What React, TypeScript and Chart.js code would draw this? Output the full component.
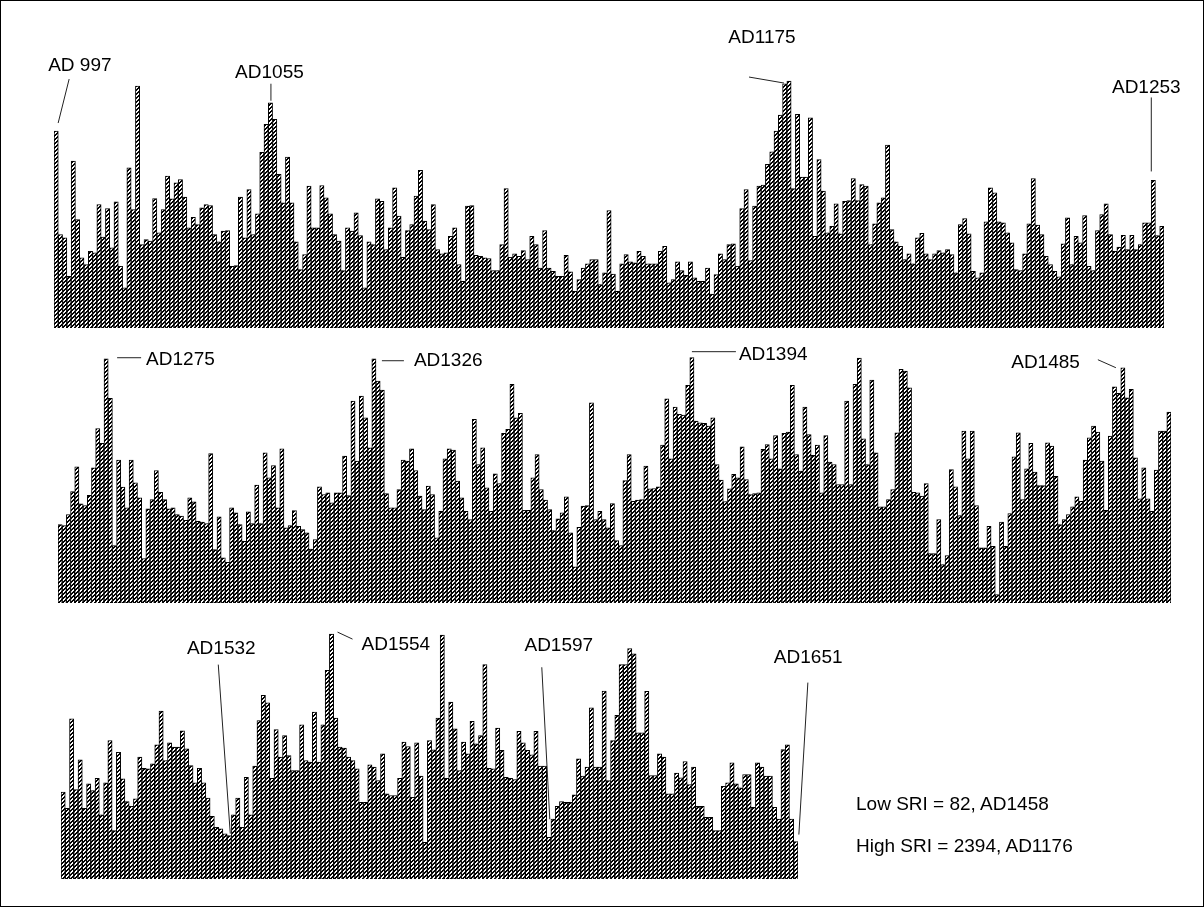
import React, { useEffect, useRef } from "react";
import { Chart, registerables } from "chart.js";

Chart.register(...registerables);

// ---- Data: SRI values (three rows) ----
const row1Values = [
  1906, 904, 872, 501, 1615, 1050, 678, 614, 743, 727,
  1195, 879, 1156, 775, 1221, 598, 388, 1550, 1147, 2342,
  808, 856, 840, 1253, 921, 1147, 1470, 1250, 1405, 1437,
  1266, 969, 1072, 1001, 1163, 1195, 1185, 904, 833, 937,
  943, 598, 604, 1266, 872, 1340, 904, 1105, 1701, 1970,
  2180, 2019, 1486, 1211, 1654, 1211, 833, 565, 711, 1373,
  969, 969, 1379, 1260, 1105, 904, 840, 556, 969, 937,
  1114, 895, 388, 833, 808, 1250, 1227, 759, 969, 1357,
  1082, 685, 943, 1001, 1276, 1525, 1034, 953, 1195, 759,
  717, 727, 888, 969, 614, 452, 1179, 1185, 704, 694,
  678, 672, 556, 556, 808, 1350, 685, 717, 694, 749,
  662, 888, 808, 581, 943, 581, 549, 501, 501, 704,
  543, 355, 468, 581, 620, 662, 662, 420, 533, 1137,
  523, 355, 620, 711, 640, 630, 743, 694, 620, 620,
  620, 743, 791, 436, 468, 640, 556, 510, 640, 485,
  452, 452, 581, 329, 517, 717, 662, 808, 814, 598,
  1156, 1340, 652, 1179, 1373, 1382, 1583, 1705, 1906, 2061,
  2364, 2390, 1350, 2067, 1460, 1460, 2035, 888, 1631, 1324,
  921, 985, 1202, 911, 1227, 1234, 1447, 1234, 1389, 1373,
  808, 1008, 1211, 1260, 1770, 953, 833, 791, 662, 717,
  620, 872, 917, 717, 662, 717, 749, 727, 759, 711,
  533, 1001, 1059, 911, 549, 485, 533, 1027, 1357, 1308,
  1027, 1017, 921, 824, 565, 556, 717, 1008, 1447, 995,
  904, 694, 614, 549, 494, 814, 1066, 614, 888, 824,
  1089, 598, 556, 943, 1098, 1202, 904, 743, 782, 898,
  759, 898, 759, 808, 1017, 1017, 1428, 895, 985,
];

const row2Values = [
  759, 749, 856, 1079, 1318, 959, 943, 1043, 1308, 1689,
  1544, 2364, 1980, 556, 1382, 1121, 921, 1382, 1163, 1017,
  430, 911, 1000, 1282, 1072, 1001, 911, 921, 856, 840,
  801, 1017, 979, 791, 782, 769, 1447, 517, 833, 436,
  394, 921, 872, 760, 598, 882, 769, 1140, 769, 1454,
  1211, 1331, 921, 1492, 727, 749, 895, 743, 711, 678,
  523, 614, 1124, 1050, 1066, 969, 1066, 1066, 1421, 1040,
  1954, 1373, 2003, 1793, 1502, 2364, 2148, 2061, 1059, 921,
  921, 1098, 1382, 1373, 1492, 1282, 1034, 904, 1131, 1050,
  630, 888, 1395, 1492, 1479, 1179, 1017, 888, 808, 1777,
  1340, 1502, 1114, 888, 1250, 1156, 1641, 1680, 2116, 1793,
  1835, 898, 898, 1211, 1437, 1098, 995, 904, 701, 814,
  872, 1027, 678, 349, 733, 937, 943, 1938, 808, 888,
  808, 727, 963, 604, 556, 1185, 1437, 985, 995, 1001,
  1324, 1105, 1108, 1124, 1528, 1977, 1395, 1896, 1825, 1818,
  2106, 2374, 1760, 1744, 1738, 1712, 1793, 1340, 1189, 982,
  1105, 1244, 1211, 1512, 1195, 1050, 1059, 1066, 1486, 1534,
  1395, 1621, 1298, 1641, 1654, 2106, 1437, 1276, 1896, 1631,
  1428, 1528, 1066, 1621, 1363, 1340, 1147, 1147, 1954, 1147,
  2116, 2370, 1589, 1340, 2158, 1454, 930, 930, 1001, 1098,
  1647, 2261, 2245, 2083, 1072, 1066, 1034, 1156, 478, 478,
  808, 371, 459, 1292, 1124, 846, 1663, 1395, 1663, 943,
  533, 533, 743, 549, 82, 782, 549, 866, 1415, 1647,
  1001, 1298, 1544, 1266, 1137, 1137, 1550, 1518, 1227, 759,
  808, 856, 930, 1027, 985, 1382, 1599, 1712, 1654, 1373,
  898, 1615, 2093, 2028, 2277, 1986, 2067, 1405, 1008, 1308,
  1008, 888, 1286, 1663, 1663, 1848,
];

const row3Values = [
  840, 685, 1550, 866, 1153, 685, 921, 856, 975, 620,
  930, 1340, 468, 1227, 969, 749, 704, 775, 1179, 1072,
  1066, 1114, 1298, 1625, 1147, 1318, 1276, 1276, 1434, 1260,
  1098, 930, 1072, 930, 782, 607, 501, 485, 436, 420,
  620, 782, 501, 985, 620, 1092, 1534, 1777, 1705, 975,
  1447, 1179, 1389, 1195, 1050, 1050, 1492, 1147, 1131, 1615,
  1131, 1492, 2019, 2370, 1557, 1276, 1266, 1179, 1147, 1066,
  743, 743, 1105, 1082, 953, 1211, 824, 808, 808, 975,
  1324, 1282, 791, 1318, 995, 355, 1340, 1250, 1557, 2360,
  975, 1712, 1454, 1050, 1324, 1211, 1525, 1308, 1389, 2074,
  1072, 1066, 1460, 1244, 985, 975, 963, 1428, 1318, 1244,
  1202, 1428, 1092, 1092, 404, 581, 704, 749, 743, 743,
  814, 1163, 995, 1082, 1657, 1082, 1082, 1818, 953, 1340,
  1583, 2074, 2074, 2229, 2180, 1415, 1415, 1815, 1001, 1001,
  1211, 1179, 824, 824, 1024, 979, 1137, 914, 1082, 704,
  704, 598, 598, 468, 468, 898, 930, 1124, 921, 882,
  1011, 1011, 694, 1124, 1082, 995, 995, 694, 581, 1253,
  1298, 581, 362,
];

// category labels (bar sequence numbers)
const row1Labels = row1Values.map((_, i) => String(i + 1));
const row2Labels = row2Values.map((_, i) => String(i + 1));
const row3Labels = row3Values.map((_, i) => String(i + 1));

// annotated bars: label text and the bar it points to
const row1Notes = [
  { text: "AD 997", index: 0 },
  { text: "AD1055", index: 50 },
  { text: "AD1175", index: 171 },
  { text: "AD1253", index: 256 },
];
const row2Notes = [
  { text: "AD1275", index: 11 },
  { text: "AD1326", index: 75 },
  { text: "AD1394", index: 151 },
  { text: "AD1485", index: 254 },
];
const row3Notes = [
  { text: "AD1532", index: 39 },
  { text: "AD1554", index: 63 },
  { text: "AD1597", index: 114 },
  { text: "AD1651", index: 172 },
];

const summaryLines = ["Low SRI = 82, AD1458", "High SRI = 2394, AD1176"];

// ---- Layout / style (not data) ----
const Y_MAX = 2400;
type NoteLayout = { align: CanvasTextAlign; tx: number; ty: number; line: number[] };
const NOTE_LAYOUT: Record<string, NoteLayout> = {
  "AD 997": { align: "left", tx: -8, ty: -65, line: [13, -52, 2, -8] },
  AD1055: { align: "center", tx: -1, ty: -30, line: [0.5, -19, 0.5, -2] },
  AD1175: { align: "center", tx: -27, ty: -43, line: [-40, -4, -5, 2] },
  AD1253: { align: "center", tx: -7, ty: -93, line: [-2, -83, -2, -9] },
  AD1275: { align: "left", tx: 40, ty: 1, line: [11, -1, 35, -1] },
  AD1326: { align: "left", tx: 40, ty: 2, line: [8, 2, 30, 2] },
  AD1394: { align: "left", tx: 47, ty: -3, line: [0, -6, 44, -6] },
  AD1485: { align: "right", tx: -43, ty: -5, line: [-25, -8, -7, 0] },
  AD1532: { align: "center", tx: -8, ty: -187, line: [-11, -171, 1, -2] },
  AD1554: { align: "left", tx: 30, ty: 11, line: [6, -2, 21, 5] },
  AD1597: { align: "center", tx: 10, ty: -191, line: [-7, -170, 1, -18] },
  AD1651: { align: "left", tx: -22, ty: -184, line: [12, -159, 3, -7] },
};

const FONT = '19px "Liberation Sans", Arial, sans-serif';

type RowSpec = {
  labels: string[];
  values: number[];
  notes: { text: string; index: number }[];
  top: number;
  height: number;
  pad: { top: number; bottom: number; left: number; right: number };
};

function makePattern(): CanvasPattern | string {
  const p = document.createElement("canvas");
  p.width = 4;
  p.height = 4;
  const c = p.getContext("2d");
  if (!c) return "#444";
  c.fillStyle = "#ffffff";
  c.fillRect(0, 0, 4, 4);
  c.fillStyle = "#000000";
  // thick diagonal hatch (two pixels per row)
  for (let y = 0; y < 4; y++) {
    const x = 3 - y;
    c.fillRect(x, y, 1, 1);
    c.fillRect((x + 1) % 4, y, 1, 1);
  }
  const pat = c.createPattern(p, "repeat");
  return pat || "#444";
}

function BarRow({ spec }: { spec: RowSpec }) {
  const ref = useRef<HTMLCanvasElement | null>(null);
  useEffect(() => {
    if (!ref.current) return;
    const notesPlugin = {
      id: "adNotes",
      afterDatasetsDraw(chart: any) {
        const ctx = chart.ctx as CanvasRenderingContext2D;
        const meta = chart.getDatasetMeta(0);
        ctx.save();
        ctx.font = FONT;
        ctx.fillStyle = "#000";
        ctx.textBaseline = "middle";
        ctx.strokeStyle = "#222";
        ctx.lineWidth = 1;
        spec.notes.forEach((n) => {
          const el = meta.data[n.index];
          if (!el) return;
          const lay = NOTE_LAYOUT[n.text];
          const bx = el.x;
          const by = el.y;
          ctx.textAlign = lay.align;
          ctx.fillText(n.text, bx + lay.tx, by + lay.ty);
          ctx.beginPath();
          ctx.moveTo(bx + lay.line[0], by + lay.line[1]);
          ctx.lineTo(bx + lay.line[2], by + lay.line[3]);
          ctx.stroke();
        });
        ctx.restore();
      },
    };
    const chart = new Chart(ref.current, {
      type: "bar",
      data: {
        labels: spec.labels,
        datasets: [
          {
            data: spec.values,
            backgroundColor: makePattern() as any,
            borderColor: "#000",
            borderWidth: 1,
            categoryPercentage: 1,
            barPercentage: 1,
          },
        ],
      },
      options: {
        animation: false,
        responsive: false,
        maintainAspectRatio: false,
        layout: { padding: spec.pad },
        plugins: { legend: { display: false }, tooltip: { enabled: false } },
        scales: {
          x: { display: false },
          y: { display: false, min: 0, max: Y_MAX },
        },
      },
      plugins: [notesPlugin],
    });
    return () => chart.destroy();
  }, [spec]);
  return (
    <canvas
      ref={ref}
      width={1204}
      height={spec.height}
      style={{ position: "absolute", left: 0, top: spec.top, width: 1204, height: spec.height }}
    />
  );
}

const ROWS: RowSpec[] = [
  {
    labels: row1Labels,
    values: row1Values,
    notes: row1Notes,
    top: 20,
    height: 309,
    pad: { top: 59, bottom: 2, left: 53, right: 41 },
  },
  {
    labels: row2Labels,
    values: row2Values,
    notes: row2Notes,
    top: 335,
    height: 269,
    pad: { top: 19, bottom: 2, left: 57, right: 34 },
  },
  {
    labels: row3Labels,
    values: row3Values,
    notes: row3Notes,
    top: 615,
    height: 265,
    pad: { top: 15, bottom: 2, left: 60, right: 407 },
  },
];

export default function App() {
  return (
    <div
      style={{
        position: "fixed",
        left: 0,
        top: 0,
        width: 1204,
        height: 907,
        boxSizing: "border-box",
        border: "1px solid #000",
        background: "#fff",
        overflow: "hidden",
      }}
    >
      {ROWS.map((r, i) => (
        <BarRow key={i} spec={r} />
      ))}
      {summaryLines.map((t, i) => (
        <div
          key={t}
          style={{
            position: "absolute",
            left: 855,
            top: 792 + i * 42,
            font: FONT,
            lineHeight: "22px",
            color: "#000",
            whiteSpace: "nowrap",
          }}
        >
          {t}
        </div>
      ))}
    </div>
  );
}
